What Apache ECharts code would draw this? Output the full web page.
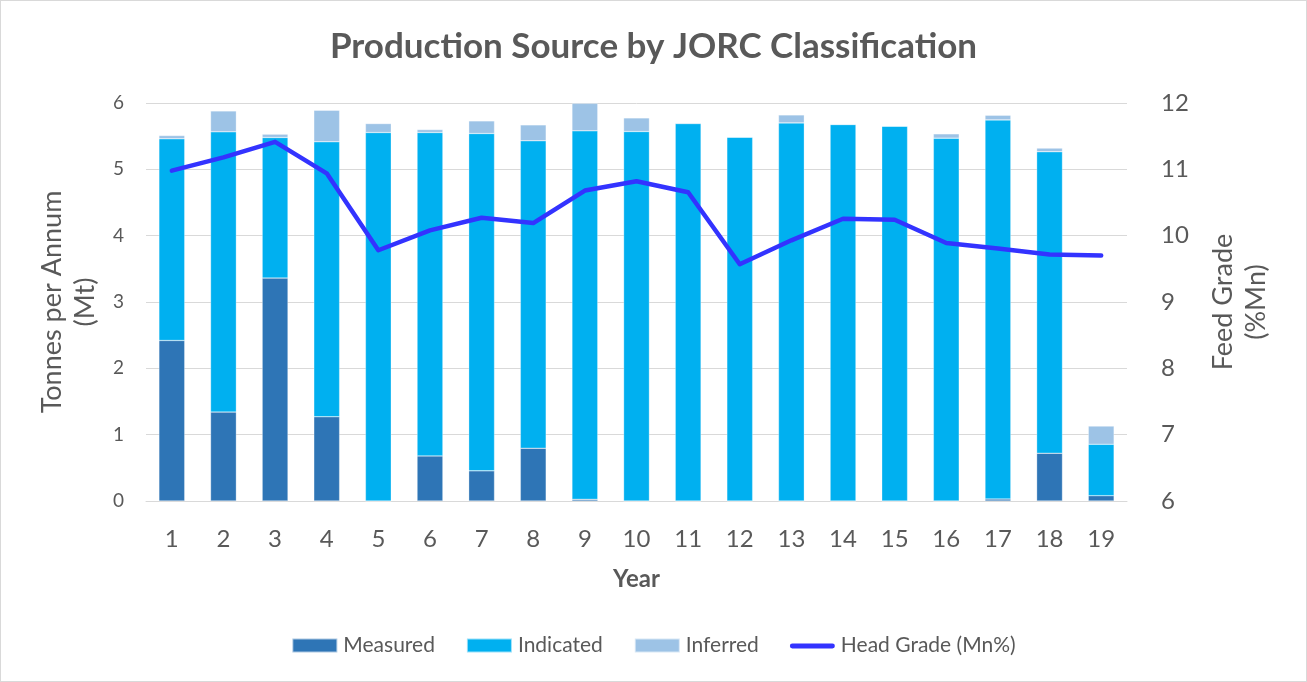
<!DOCTYPE html>
<html>
<head>
<meta charset="utf-8">
<script src="https://cdn.jsdelivr.net/npm/echarts@6/dist/echarts.min.js"></script>
<style>
  html, body { margin: 0; padding: 0; background: #fff; }
  #chart { width: 1307px; height: 682px; box-sizing: border-box; border: 1px solid #d9d9d9; }
</style>
</head>
<body>
<div id="chart"></div>
<script>
// 年份
const years = ['1','2','3','4','5','6','7','8','9','10','11','12','13','14','15','16','17','18','19']
// 各类资源量 (Mt)
const measured = [2.42, 1.34, 3.36, 1.27, 0, 0.68, 0.455, 0.795, 0.025, 0, 0, 0, 0, 0, 0, 0, 0.03, 0.72, 0.08]
const indicated = [3.04, 4.225, 2.12, 4.145, 5.555, 4.875, 5.085, 4.635, 5.555, 5.57, 5.69, 5.485, 5.70, 5.675, 5.65, 5.47, 5.715, 4.545, 0.775]
const inferred = [0.05, 0.315, 0.05, 0.475, 0.135, 0.045, 0.19, 0.24, 0.415, 0.205, 0.01, 0.005, 0.12, 0.005, 0.005, 0.065, 0.07, 0.055, 0.275]
// 品位 (%Mn)
const headGrade = [10.98, 11.18, 11.415, 10.94, 9.78, 10.08, 10.27, 10.19, 10.68, 10.82, 10.655, 9.57, 9.93, 10.255, 10.24, 9.89, 9.805, 9.715, 9.70]

const font = 'Lato, "Open Sans", sans-serif'
const grey = '#595959'

const chart = echarts.init(document.getElementById('chart'))

const barStyle = (color) => ({
  color: color,
  borderColor: 'rgba(255,255,255,0.6)',
  borderWidth: 0.5
})

// 图例里的线条图标（细横线）
const lineIcon = 'path://M0,0 L0.01,0 M0,14 L0.01,14 M2,5 H43 A2.5,2.5 0 0 1 43,10 H2 A2.5,2.5 0 0 1 2,5 Z'

const option = {
  animation: false,
  textStyle: { fontFamily: font },
  title: {
    text: 'Production Source by JORC Classification',
    left: 'center',
    top: 23,
    textStyle: { fontSize: 35, fontWeight: 'bold', color: grey, fontFamily: font }
  },
  legend: {
    bottom: 20,
    left: 'center',
    itemWidth: 45,
    itemHeight: 14,
    itemGap: 31,
    textStyle: { fontSize: 21, color: grey, fontFamily: font, padding: [0, 0, 0, 1] },
    data: [
      { name: 'Measured', icon: 'rect' },
      { name: 'Indicated', icon: 'rect' },
      { name: 'Inferred', icon: 'rect' },
      { name: 'Head Grade (Mn%)', icon: lineIcon }
    ]
  },
  grid: {
    left: 145,
    right: 179,
    top: 102,
    bottom: 180
  },
  xAxis: {
    type: 'category',
    data: years,
    name: 'Year',
    nameLocation: 'middle',
    nameGap: 66,
    nameTextStyle: { fontSize: 24, fontWeight: 'bold', color: grey },
    axisLine: { lineStyle: { color: '#d9d9d9', width: 1 } },
    axisTick: { show: false },
    axisLabel: { fontSize: 24, color: grey, margin: 26 }
  },
  yAxis: [
    {
      type: 'value',
      min: 0,
      max: 6,
      interval: 1,
      name: 'Tonnes per Annum\n(Mt)',
      nameLocation: 'middle',
      nameRotate: 90,
      nameGap: 44,
      nameTextStyle: { fontSize: 27, color: grey, lineHeight: 33 },
      axisLine: { show: false },
      axisTick: { show: false },
      axisLabel: { fontSize: 19, color: grey, margin: 22 },
      splitLine: { lineStyle: { color: '#d9d9d9', width: 1 } }
    },
    {
      type: 'value',
      min: 6,
      max: 12,
      interval: 1,
      name: 'Feed Grade\n(%Mn)',
      nameLocation: 'middle',
      nameRotate: 90,
      nameGap: 80,
      nameTextStyle: { fontSize: 27, color: grey, lineHeight: 33 },
      axisLine: { show: false },
      axisTick: { show: false },
      axisLabel: { fontSize: 24, color: grey, margin: 34 },
      splitLine: { show: false }
    }
  ],
  series: [
    {
      name: 'Measured',
      type: 'bar',
      stack: 'jorc',
      barWidth: '50%',
      itemStyle: barStyle('#2E75B6'),
      data: measured
    },
    {
      name: 'Indicated',
      type: 'bar',
      stack: 'jorc',
      itemStyle: barStyle('#00B0F0'),
      data: indicated
    },
    {
      name: 'Inferred',
      type: 'bar',
      stack: 'jorc',
      itemStyle: barStyle('#9DC3E6'),
      data: inferred
    },
    {
      name: 'Head Grade (Mn%)',
      type: 'line',
      yAxisIndex: 1,
      symbol: 'none',
      lineStyle: { color: '#3333FF', width: 4.5, cap: 'round', join: 'round' },
      itemStyle: { color: '#3333FF' },
      data: headGrade
    }
  ]
}

chart.setOption(option)
</script>
</body>
</html>
